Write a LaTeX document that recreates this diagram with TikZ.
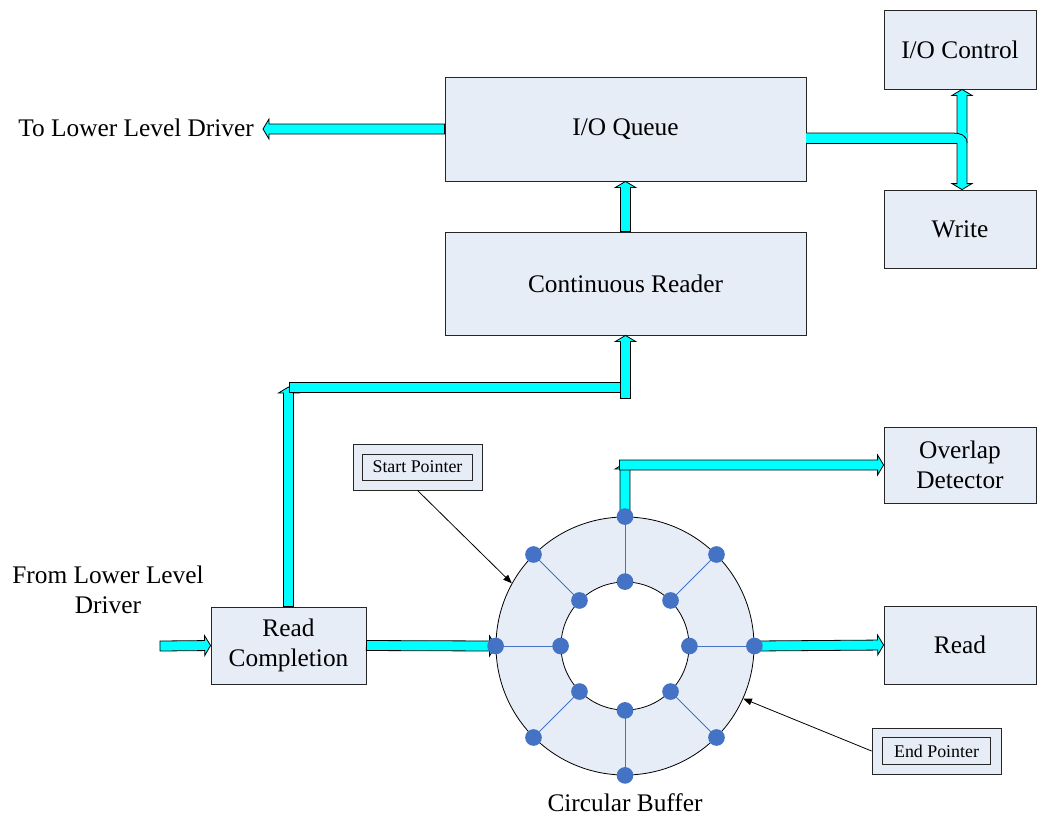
\documentclass[tikz,border=0pt]{standalone}
\usepackage{fontspec}
\setmainfont{Liberation Serif}
\usetikzlibrary{calc,arrows.meta}
\definecolor{boxfill}{HTML}{E7EDF7}
\definecolor{fatcyan}{HTML}{00FFFF}
\definecolor{dotblue}{HTML}{4472C4}
% single-headed block arrow from #1 to #2 (coordinate names)
\newcommand\fatarrow[2]{%
  \coordinate (fah) at ($(#2)!4.5pt!(#1)$);
  \filldraw[fatstyle] ($(#1)!3.75pt!90:(#2)$) -- ($(fah)!3.75pt!90:(#2)$) -- ($(fah)!7.5pt!90:(#2)$) -- (#2)
    -- ($(fah)!7.5pt!-90:(#2)$) -- ($(fah)!3.75pt!-90:(#2)$) -- ($(#1)!3.75pt!-90:(#2)$) -- cycle;}
% double-headed block arrow
\newcommand\fatdarrow[2]{%
  \coordinate (fah) at ($(#2)!4.5pt!(#1)$);
  \coordinate (fatt) at ($(#1)!4.5pt!(#2)$);
  \filldraw[fatstyle] (#1) -- ($(fatt)!7.5pt!90:(#2)$) -- ($(fatt)!3.75pt!90:(#2)$) -- ($(fah)!3.75pt!90:(#2)$)
    -- ($(fah)!7.5pt!90:(#2)$) -- (#2) -- ($(fah)!7.5pt!-90:(#2)$) -- ($(fah)!3.75pt!-90:(#2)$)
    -- ($(fatt)!3.75pt!-90:(#2)$) -- ($(fatt)!7.5pt!-90:(#2)$) -- cycle;}
\begin{document}
\begin{tikzpicture}[x=0.75pt,y=-0.75pt,
  box/.style={draw=black!85,fill=boxfill,line width=0.6pt,inner sep=0pt,align=center,font=\fontsize{19}{22.5}\selectfont},
  lbl/.style={inner sep=0pt,align=center,font=\fontsize{19}{22.5}\selectfont},
  smallbox/.style={draw=black!85,fill=boxfill,line width=0.6pt,inner sep=0pt,font=\fontsize{13.4}{16}\selectfont},
  fatstyle/.style={fill=fatcyan,draw=black,line width=0.6pt,line join=miter},
  ptrarrow/.style={draw=black,line width=0.6pt,-{Triangle[length=6.5pt,width=5pt]}},
  spoke/.style={draw=dotblue,line width=0.6pt}]
\useasboundingbox (0,0) rectangle (1038,819);

% boxes
\node[box,minimum width=114pt,minimum height=59.25pt] (ioc) at (960,49.5) {I/O Control};
\node[box,minimum width=114pt,minimum height=58.5pt] (wr) at (960,229) {Write};
\node[box,minimum width=270.75pt,minimum height=78pt] (ioq) at (625.5,129) {I/O Queue};
\node[box,minimum width=270.75pt,minimum height=77.25pt] (cr) at (625.5,283.5) {Continuous Reader};
\node[box,minimum width=114pt,minimum height=57pt] (od) at (960,465) {Overlap\\Detector};
\node[box,minimum width=114pt,minimum height=58.5pt] (rd) at (960,645) {Read};
\node[box,minimum width=116.25pt,minimum height=57.75pt] (rc) at (288.5,645.5) {Read\\Completion};

% free labels
\node[lbl,anchor=east] (tll) at (254,128) {To Lower Level Driver};
\node[lbl] (fll) at (108,590) {From Lower Level\\Driver};
\node[lbl] (cbl) at (625,803) {Circular Buffer};

% pointer boxes
\node[smallbox,minimum width=96.75pt,minimum height=34.5pt] (spo) at (417.5,467) {};
\node[smallbox,minimum width=82.5pt,minimum height=19.5pt] (sp) at (spo) {Start Pointer};
\node[smallbox,minimum width=96.75pt,minimum height=34.5pt] (epo) at (936.5,751) {};
\node[smallbox,minimum width=81pt,minimum height=20.25pt] (ep) at (epo) {End Pointer};

% ring
\node[circle,draw=black,fill=boxfill,line width=0.6pt,minimum size=193.5pt,inner sep=0pt] (ring) at (625,646) {};
\node[circle,draw=black,fill=white,line width=0.6pt,minimum size=96pt,inner sep=0pt] (hole) at (ring) {};
\foreach \a in {0,45,...,315}{\draw[spoke] (hole.\a) -- (ring.\a);}

% coordinates for free ends
\coordinate (tllend) at (263,129);
\coordinate (ioqr) at ($(ioq.east)+(0,9)$);
\coordinate (dtop) at ($(ioc.south)+(2,0)$);
\coordinate (dbot) at ($(wr.north)+(2,0)$);
\coordinate (jn) at (dtop |- ioqr);
\coordinate (barL) at (289,387);
\coordinate (rcTop) at (rc.north |- barL);
\coordinate (crIn) at ($(cr.south)+(0,63)$);
\coordinate (fllS) at (160,646);
\coordinate (ovc) at (ring.north |- od.west);
\coordinate (ovTop) at ($(ovc)+(0,-2)$);
\coordinate (ovL) at ($(ovc)+(-5.5,0)$);

% block arrows
\fatarrow{ioq.west}{tllend}
\fatdarrow{dbot}{dtop}
\fill[fatcyan] ($(ioqr)+(0,-5)$) rectangle ($(jn)+(4.5,5)$);
\draw[line width=0.6pt] ($(ioqr)+(0,-5)$) -- ($(jn)+(-9,-5)$) .. controls ($(jn)+(-2,-5)$) and ($(jn)+(5,-3)$) .. ($(jn)+(5,5)$);
\draw[line width=0.6pt] ($(ioqr)+(0,5)$) -- ($(jn)+(-5,5)$);
\fatarrow{cr.north}{ioq.south}
\fatarrow{rc.north}{rcTop}
\filldraw[fatstyle] ($(barL)+(0,-5)$) rectangle ($(crIn |- barL)+(-4,5)$);
\fatarrow{crIn}{cr.south}
\fatarrow{fllS}{rc.west}
\fatarrow{rc.east}{ring.west}
\fatarrow{ring.east}{rd.west}
\fatarrow{ring.north}{ovTop}
\fatarrow{ovL}{od.west}

% dots
\foreach \a in {0,45,...,315}{
  \fill[dotblue] (ring.\a) circle[radius=6.25pt];
  \fill[dotblue] (hole.\a) circle[radius=6.25pt];
}

% pointer arrows
\draw[ptrarrow] (spo.south) -- (ring.151);
\draw[ptrarrow] (epo.west) -- (ring.-24);
\end{tikzpicture}
\end{document}
